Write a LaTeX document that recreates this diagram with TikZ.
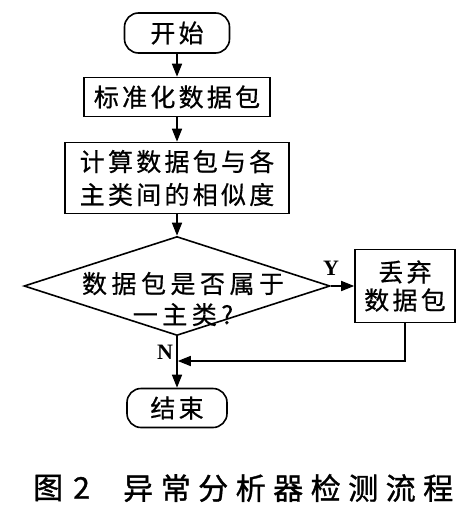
\documentclass[tikz,border=0pt]{standalone}
\usepackage{fontspec}
\setmainfont{Liberation Serif}
\newfontfamily\cjk[LetterSpace=13,FakeBold=0.6]{Noto Sans CJK SC}
\newfontfamily\cjkdec[LetterSpace=18,FakeBold=0.6]{Noto Sans CJK SC}
\newfontfamily\cjkcap[LetterSpace=25,FakeBold=1.2]{Noto Sans CJK SC}
\usetikzlibrary{shapes.geometric,arrows.meta}
\begin{document}
\begin{tikzpicture}[x=1pt,y=-1pt,
  base/.style={draw, line width=1.6pt, inner sep=0pt, align=center,
    font=\cjk\fontsize{25}{33}\selectfont},
  term/.style={base, rounded corners=14pt},
  proc/.style={base},
  decision/.style={draw, diamond, line width=1.6pt, inner sep=0pt},
  flow/.style={line width=1.6pt, -{Triangle[length=13pt,width=10pt]}},
  yn/.style={font=\fontsize{22}{22}\selectfont\bfseries},
  caption/.style={font=\cjkcap\fontsize{30}{30}\selectfont, anchor=west, inner sep=0pt}]
\useasboundingbox (0,0) rectangle (462,513);
\node[term, minimum width=105pt, minimum height=40pt] (start) at (177,33) {开始};
\node[proc, minimum width=186pt, minimum height=39pt] (std) at (177,97) {标准化数据包};
\node[proc, minimum width=224pt, minimum height=71pt] (calc) at (177,178) {计算数据包与各\\主类间的相似度};
\node[decision, minimum width=306pt, minimum height=99pt] (dec) at (177,286) {};
\node[align=center, font=\cjkdec\fontsize{25}{31}\selectfont] (dectext) at (183,299) {数据包是否属于\\一主类?};
\node[proc, minimum width=100pt, minimum height=73pt, font=\cjk\fontsize{25}{28}\selectfont] (drop) at (405,286) {丢弃\\数据包};
\node[term, minimum width=100pt, minimum height=39pt] (end) at (177,408) {结束};
\coordinate (m) at (177,361);
\node[yn] (ylab) at (331,268) {Y};
\node[yn] (nlab) at (165,352) {N};
\node[caption] (cap1) at (33,488) {图\hspace{10pt}2};
\node[caption] (cap2) at (123,488) {异常分析器检测流程};
\draw[flow] (start) -- (std);
\draw[flow] (std) -- (calc);
\draw[flow] (calc) -- (dec);
\draw[flow] (dec) -- (drop);
\draw[flow] (dec) -- (end);
\draw[flow, shorten >=0.8pt] (drop.south) |- (m);
\end{tikzpicture}
\end{document}
